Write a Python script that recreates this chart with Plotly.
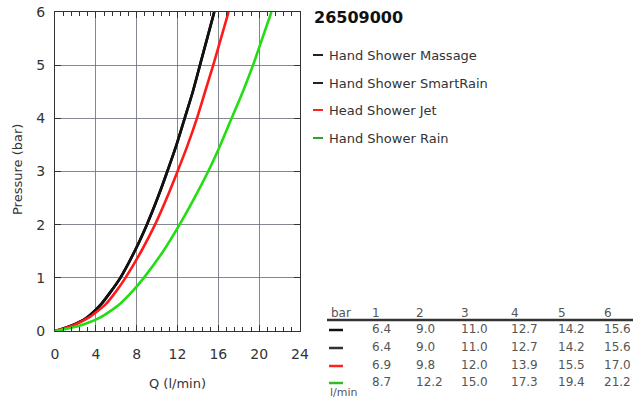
import plotly.graph_objects as go

# ---- data ----
pressure_bar = [0, 0.1, 0.25, 0.5, 0.75, 1, 1.5, 2, 2.5, 3, 3.5, 4, 4.5, 5, 5.5, 6]
series_names = ["Hand Shower Massage", "Hand Shower SmartRain", "Head Shower Jet", "Hand Shower Rain"]
flow_massage = [0, 1.6, 3.1, 4.5, 5.5, 6.4, 7.8, 9.0, 10.05, 11.0, 11.9, 12.7, 13.5, 14.2, 14.9, 15.6]
flow_smartrain = [0, 1.6, 3.1, 4.5, 5.5, 6.4, 7.8, 9.0, 10.05, 11.0, 11.9, 12.7, 13.5, 14.2, 14.9, 15.6]
flow_jet = [0, 1.7, 3.3, 4.95, 6.0, 6.9, 8.45, 9.8, 10.95, 12.0, 13.0, 13.9, 14.7, 15.5, 16.25, 17.0]
flow_rain = [0, 2.4, 4.4, 6.3, 7.6, 8.7, 10.6, 12.2, 13.65, 15.0, 16.2, 17.3, 18.4, 19.4, 20.3, 21.2]
table_header = ["1", "2", "3", "4", "5", "6"]
table_massage = [6.4, 9.0, 11.0, 12.7, 14.2, 15.6]
table_smartrain = [6.4, 9.0, 11.0, 12.7, 14.2, 15.6]
table_jet = [6.9, 9.8, 12.0, 13.9, 15.5, 17.0]
table_rain = [8.7, 12.2, 15.0, 17.3, 19.4, 21.2]
title_text = "26509000"

flows = [flow_massage, flow_smartrain, flow_jet, flow_rain]
tables = [table_massage, table_smartrain, table_jet, table_rain]
line_colors = ["#000000", "#111111", "#ff1a1a", "#22dd11"]
legend_colors = ["#222222", "#222222", "#ff2222", "#33a033"]
table_colors = ["#111111", "#333333", "#ff2222", "#33bb22"]

W, H = 633, 403
L, R, T, B = 55, 300, 12, 331

def px(x):
    return (x - L) / (R - L)

def py(y):
    return (B - y) / (B - T)

fig = go.Figure()
for name, f, c in zip(series_names, flows, line_colors):
    fig.add_trace(go.Scatter(x=f, y=pressure_bar, mode="lines", name=name,
                             line=dict(color=c, width=2.6, shape="spline", smoothing=0.6),
                             showlegend=False, hoverinfo="skip"))

font_main = "DejaVu Sans, Verdana, sans-serif"
ann = []
shapes = []

# title
ann.append(dict(text="<b>" + title_text + "</b>", x=px(312), y=py(18), xref="paper", yref="paper",
                xanchor="left", yanchor="middle", showarrow=False,
                font=dict(size=16, color="#111111", family=font_main)))
# legend
leg_y = [55, 83, 110, 138]
for name, c, yy in zip(series_names, legend_colors, leg_y):
    shapes.append(dict(type="line", xref="paper", yref="paper", x0=px(313), x1=px(323),
                       y0=py(yy), y1=py(yy), line=dict(color=c, width=2)))
    ann.append(dict(text=name, x=px(327), y=py(yy), xref="paper", yref="paper",
                    xanchor="left", yanchor="middle", showarrow=False,
                    font=dict(size=13, color="#333333", family=font_main)))

# table
col_x = [370, 414, 459, 509, 556, 602]
tfont = dict(size=12, color="#555555", family=font_main)
ann.append(dict(text="bar", x=px(329), y=py(313), xref="paper", yref="paper",
                xanchor="left", yanchor="middle", showarrow=False, font=tfont))
for h, cx in zip(table_header, col_x):
    ann.append(dict(text=h, x=px(cx), y=py(313), xref="paper", yref="paper",
                    xanchor="left", yanchor="middle", showarrow=False, font=tfont))
shapes.append(dict(type="line", xref="paper", yref="paper", x0=px(327), x1=px(633),
                   y0=py(320), y1=py(320), line=dict(color="#333333", width=2.5)))
row_y = [329, 347, 365, 382]
for tv, c, ry in zip(tables, table_colors, row_y):
    shapes.append(dict(type="line", xref="paper", yref="paper", x0=px(329), x1=px(343),
                       y0=py(ry + 1), y1=py(ry + 1), line=dict(color=c, width=2.5)))
    for v, cx in zip(tv, col_x):
        ann.append(dict(text=f"{v:.1f}", x=px(cx), y=py(ry), xref="paper", yref="paper",
                        xanchor="left", yanchor="middle", showarrow=False, font=tfont))
ann.append(dict(text="l/min", x=px(328), y=py(393), xref="paper", yref="paper",
                xanchor="left", yanchor="middle", showarrow=False,
                font=dict(size=11, color="#555555", family=font_main)))

# axis titles
ann.append(dict(text="Q (l/min)", x=px(177), y=py(383), xref="paper", yref="paper",
                xanchor="center", yanchor="middle", showarrow=False,
                font=dict(size=13, color="#333333", family=font_main)))
ann.append(dict(text="Pressure (bar)", x=px(17), y=py(170), xref="paper", yref="paper",
                xanchor="center", yanchor="middle", showarrow=False, textangle=-90,
                font=dict(size=13, color="#333333", family=font_main)))

fig.update_layout(
    width=W, height=H,
    margin=dict(l=L, r=W - R, t=T, b=H - B, autoexpand=False),
    paper_bgcolor="white", plot_bgcolor="white",
    annotations=ann, shapes=shapes,
    font=dict(family=font_main, color="#333333", size=13),
    hovermode=False,
)
fig.update_xaxes(range=[0, 24], dtick=4, tick0=0, showgrid=True, gridcolor="#646a78", gridwidth=0.8,
                 zeroline=False, showline=True, linecolor="#333333", linewidth=1, mirror="allticks",
                 ticks="inside", ticklen=6, tickcolor="#333333", ticklabelstandoff=10,
                 minor=dict(dtick=0.8, ticks="inside", ticklen=4, tickcolor="#333333", showgrid=False),
                 tickfont=dict(size=14, color="#333333"))
fig.update_yaxes(range=[0, 6], dtick=1, tick0=0, showgrid=True, gridcolor="#646a78", gridwidth=0.8,
                 zeroline=False, showline=True, linecolor="#333333", linewidth=1, mirror="allticks",
                 ticks="inside", ticklen=6, tickcolor="#333333", ticklabelstandoff=6,
                 tickfont=dict(size=14, color="#333333"))

fig.write_html("out.html", config={"displayModeBar": False, "staticPlot": True},
               post_script="document.body.style.margin='0';document.body.style.overflow='hidden';")
